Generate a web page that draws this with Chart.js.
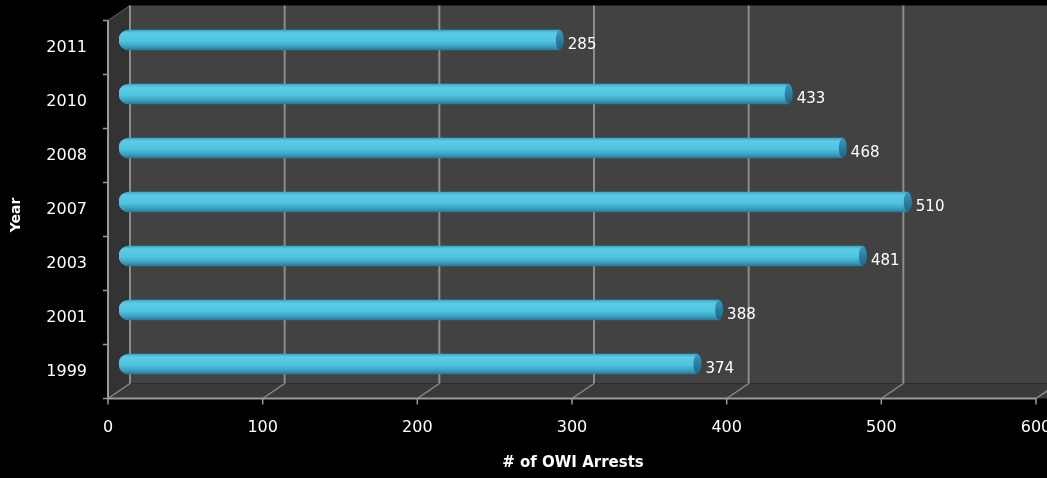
<!DOCTYPE html>
<html>
<head>
<meta charset="utf-8">
<title>OWI Arrests by Year</title>
<script src="https://cdn.jsdelivr.net/npm/chart.js@4.4.1/dist/chart.umd.min.js"></script>
<style>
  html, body { margin: 0; padding: 0; background: #000; }
  #wrap { width: 1047px; height: 478px; }
</style>
</head>
<body>
<div id="wrap"><canvas id="arrests" width="1047" height="478"></canvas></div>
<script>
const years = ['2011', '2010', '2008', '2007', '2003', '2001', '1999'];
const arrests = [285, 433, 468, 510, 481, 388, 374];
const xMin = 0, xMax = 600, xStep = 100;
const xTitle = '# of OWI Arrests';
const yTitle = 'Year';

// half depth of the 3d box: bars sit in the middle plane
const DX = 11, DY = -7.5;
const FONT = 'DejaVu Sans';

// vertical shading so each bar reads as a tube
function tubeFill(c) {
  const ys = c.chart.scales.y;
  if (!ys || c.dataIndex === undefined) return '#4fc1dc';
  const yc = ys.getPixelForValue(c.dataIndex);
  if (!isFinite(yc)) return '#4fc1dc';
  const g = c.chart.ctx.createLinearGradient(0, yc - 10, 0, yc + 10);
  g.addColorStop(0, '#38a6c6');
  g.addColorStop(0.15, '#5ccbe6');
  g.addColorStop(0.55, '#50c4e0');
  g.addColorStop(0.82, '#3aa0c0');
  g.addColorStop(1, '#29799a');
  return g;
}

// keep the plot box at fixed pixel bounds
function fixBox(size) {
  return s => {
    if (s.isHorizontal()) s.height = size; else s.width = size;
    s.paddingLeft = s.paddingRight = s.paddingTop = s.paddingBottom = 0;
  };
}

const box3d = {
  id: 'box3d',
  beforeDraw(chart) {
    const {ctx, chartArea: a, scales: {x, y}} = chart;
    const fl = a.left - DX, fr = a.right - DX, ft = a.top - DY, fb = a.bottom - DY;
    const bl = a.left + DX, bt = a.top + DY, bb = a.bottom + DY;
    const br = chart.width;
    ctx.save();
    // back wall
    ctx.fillStyle = '#424242';
    ctx.fillRect(bl, bt, br - bl, bb - bt);
    // left wall
    ctx.fillStyle = '#333333';
    ctx.beginPath();
    ctx.moveTo(fl, ft); ctx.lineTo(bl, bt); ctx.lineTo(bl, bb); ctx.lineTo(fl, fb);
    ctx.closePath(); ctx.fill();
    // floor
    ctx.fillStyle = '#3a3a3a';
    ctx.beginPath();
    ctx.moveTo(fl, fb); ctx.lineTo(bl, bb); ctx.lineTo(br, bb); ctx.lineTo(fr + 2 * DX, fb);
    ctx.closePath(); ctx.fill();
    ctx.strokeStyle = '#6a6a6a';
    ctx.lineWidth = 1;
    ctx.beginPath(); ctx.moveTo(fl, ft); ctx.lineTo(bl, bt); ctx.stroke();

    // value grid on the back wall and across the floor
    ctx.strokeStyle = '#8c8c8c';
    x.ticks.forEach(t => {
      const px = x.getPixelForValue(t.value);
      ctx.lineWidth = 2;
      ctx.beginPath(); ctx.moveTo(px + DX, bt); ctx.lineTo(px + DX, bb); ctx.stroke();
      ctx.lineWidth = 1.5;
      ctx.beginPath(); ctx.moveTo(px + DX, bb); ctx.lineTo(px - DX, fb); ctx.stroke();
    });

    // front axes with tick marks
    ctx.strokeStyle = '#9a9a9a';
    ctx.lineWidth = 2;
    ctx.beginPath(); ctx.moveTo(fl, ft); ctx.lineTo(fl, fb); ctx.lineTo(fr, fb); ctx.stroke();
    ctx.lineWidth = 1.5;
    x.ticks.forEach(t => {
      const px = x.getPixelForValue(t.value) - DX;
      ctx.beginPath(); ctx.moveTo(px, fb); ctx.lineTo(px, fb + 6); ctx.stroke();
    });
    const step = y.getPixelForValue(1) - y.getPixelForValue(0);
    for (let i = 0; i <= years.length; i++) {
      const py = y.getPixelForValue(i) - step / 2 - DY;
      ctx.beginPath(); ctx.moveTo(fl - 5, py); ctx.lineTo(fl, py); ctx.stroke();
    }
    ctx.restore();
  },
  afterDatasetsDraw(chart) {
    const {ctx} = chart;
    const meta = chart.getDatasetMeta(0);
    ctx.save();
    meta.data.forEach((bar, i) => {
      const h = bar.height / 2;
      // end cap
      const g = ctx.createLinearGradient(0, bar.y - h, 0, bar.y + h);
      g.addColorStop(0, '#3a98bd');
      g.addColorStop(1, '#1d6586');
      ctx.fillStyle = g;
      ctx.beginPath();
      ctx.ellipse(bar.x, bar.y, 4, h, 0, 0, Math.PI * 2);
      ctx.fill();
      // value label
      ctx.fillStyle = '#ffffff';
      ctx.font = '15px "' + FONT + '"';
      ctx.textAlign = 'left';
      ctx.textBaseline = 'middle';
      ctx.fillText(String(arrests[i]), bar.x + 8, bar.y + 5);
    });
    ctx.restore();
  },
  afterDraw(chart) {
    // axis titles
    const {ctx, chartArea: a} = chart;
    ctx.save();
    ctx.fillStyle = '#ffffff';
    ctx.textAlign = 'center';
    ctx.textBaseline = 'middle';
    ctx.font = 'bold 15px "' + FONT + '"';
    ctx.fillText(xTitle, (a.left + a.right) / 2 - 10, 463);
    ctx.font = 'bold 14px "' + FONT + '"';
    ctx.translate(16, (a.top + a.bottom) / 2 + 13);
    ctx.rotate(-Math.PI / 2);
    ctx.fillText(yTitle, 0, 0);
    ctx.restore();
  }
};

new Chart(document.getElementById('arrests').getContext('2d'), {
  type: 'bar',
  data: {
    labels: years,
    datasets: [{
      label: xTitle,
      data: arrests,
      backgroundColor: tubeFill,
      borderWidth: 0,
      borderSkipped: false,
      borderRadius: {topLeft: 10, bottomLeft: 10, topRight: 0, bottomRight: 0},
      barThickness: 20
    }]
  },
  options: {
    indexAxis: 'y',
    responsive: false,
    animation: false,
    layout: {autoPadding: false, padding: {top: 13, left: 0, right: 0, bottom: 0}},
    plugins: {legend: {display: false}, tooltip: {enabled: false}},
    scales: {
      x: {
        min: xMin,
        max: xMax,
        grid: {display: false, drawTicks: false},
        border: {display: false},
        ticks: {
          stepSize: xStep,
          color: '#ffffff',
          font: {family: FONT, size: 16},
          padding: 27,
          labelOffset: -DX,
          maxRotation: 0
        },
        afterFit: fixBox(87)
      },
      y: {
        grid: {display: false, drawTicks: false},
        border: {display: false},
        ticks: {
          color: '#ffffff',
          font: {family: FONT, size: 16},
          padding: 32,
          labelOffset: -DY
        },
        afterFit: fixBox(119)
      }
    }
  },
  plugins: [box3d]
});
</script>
</body>
</html>
